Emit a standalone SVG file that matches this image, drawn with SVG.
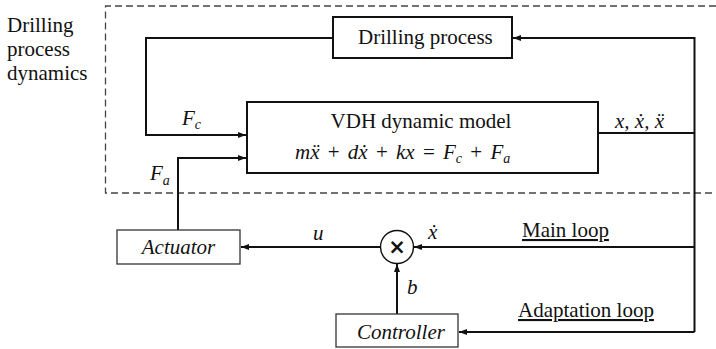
<svg xmlns="http://www.w3.org/2000/svg" width="716" height="349" viewBox="0 0 716 349">
<defs>
<marker id="ah" markerUnits="userSpaceOnUse" markerWidth="8" markerHeight="8" viewBox="0 0 8 8" refX="8" refY="4" orient="auto">
<path d="M0,1 L8,4 L0,7 Z" fill="#111"/>
</marker>
</defs>
<rect width="716" height="349" fill="#fff"/>
<g font-family="Liberation Serif" font-size="21" fill="#111">
<g id="region">
<path d="M716,6 H105.5 V193 H716" fill="none" stroke="#444" stroke-width="1.3" stroke-dasharray="7 4"/>
<text x="7" y="32" font-family="Liberation Serif, serif" font-size="21">Drilling</text>
<text x="7" y="56" font-family="Liberation Serif, serif" font-size="21">process</text>
<text x="7" y="80" font-family="Liberation Serif, serif" font-size="21">dynamics</text>
</g>
<g id="connectors" fill="none" stroke="#111" stroke-width="2">
<path d="M333,38 H146 V135 H246" marker-end="url(#ah)"/>
<path d="M178,230 V158 H246" marker-end="url(#ah)"/>
<path d="M598,133 H694.5"/>
<path d="M694.5,332 V38 H513" marker-end="url(#ah)"/>
<path d="M694.5,247 H414" marker-end="url(#ah)"/>
<path d="M380,247 H241" marker-end="url(#ah)"/>
<path d="M694.5,332 H459" marker-end="url(#ah)"/>
<path d="M397,314 V264" marker-end="url(#ah)"/>
</g>
<g id="labels" font-style="italic">
<text x="182" y="125" font-family="Liberation Serif, serif" font-size="21" font-style="italic">F<tspan font-size="14" dy="4">c</tspan></text>
<text x="150" y="180" font-family="Liberation Serif, serif" font-size="21" font-style="italic">F<tspan font-size="14" dy="5">a</tspan></text>
<text x="615" y="128" font-family="Liberation Serif, serif" font-size="21" font-style="italic">x, &#x1E8B;, &#x1E8D;</text>
<text x="313" y="240" font-family="Liberation Serif, serif" font-size="21" font-style="italic">u</text>
<text x="428" y="239" font-family="Liberation Serif, serif" font-size="21" font-style="italic">&#x1E8B;</text>
<text x="407" y="294" font-family="Liberation Serif, serif" font-size="21" font-style="italic">b</text>
</g>
<g id="loop-labels">
<text x="522" y="237" font-family="Liberation Serif, serif" font-size="21" text-decoration="underline">Main loop</text>
<text x="518" y="317" font-family="Liberation Serif, serif" font-size="21" text-decoration="underline">Adaptation loop</text>
</g>
<g id="drilling-process">
<rect x="333" y="17" width="179" height="41" fill="#fff" stroke="#111" stroke-width="2"/>
<text x="358" y="44" font-family="Liberation Serif, serif" font-size="21">Drilling process</text>
</g>
<g id="vdh-model">
<rect x="247" y="102" width="351" height="71" fill="#fff" stroke="#111" stroke-width="2"/>
<text x="421" y="128" text-anchor="middle" font-family="Liberation Serif, serif" font-size="21">VDH dynamic model</text>
<text x="295" y="159" font-family="Liberation Serif, serif" font-size="21" word-spacing="3"><tspan font-style="italic">m&#x1E8D;</tspan> + <tspan font-style="italic">d&#x1E8B;</tspan> + <tspan font-style="italic">kx</tspan> = <tspan font-style="italic">F</tspan><tspan font-style="italic" font-size="14" dy="4">c</tspan><tspan dy="-4"> + </tspan><tspan font-style="italic">F</tspan><tspan font-style="italic" font-size="14" dy="4">a</tspan></text>
</g>
<g id="actuator">
<rect x="117" y="230" width="123" height="34" fill="#fff" stroke="#333" stroke-width="1.3"/>
<text x="178.5" y="254" text-anchor="middle" font-family="Liberation Serif, serif" font-size="21" font-style="italic">Actuator</text>
</g>
<g id="multiplier">
<circle cx="397" cy="247" r="16.5" fill="#fff" stroke="#111" stroke-width="1.4"/>
<text x="397" y="254" text-anchor="middle" font-family="DejaVu Sans, sans-serif" font-size="21" font-weight="bold">&#xD7;</text>
</g>
<g id="controller">
<rect x="336" y="314" width="122" height="33" fill="#fff" stroke="#333" stroke-width="1.3"/>
<text x="357" y="339" font-family="Liberation Serif, serif" font-size="21" font-style="italic">Controller</text>
</g>
</g>
</svg>
